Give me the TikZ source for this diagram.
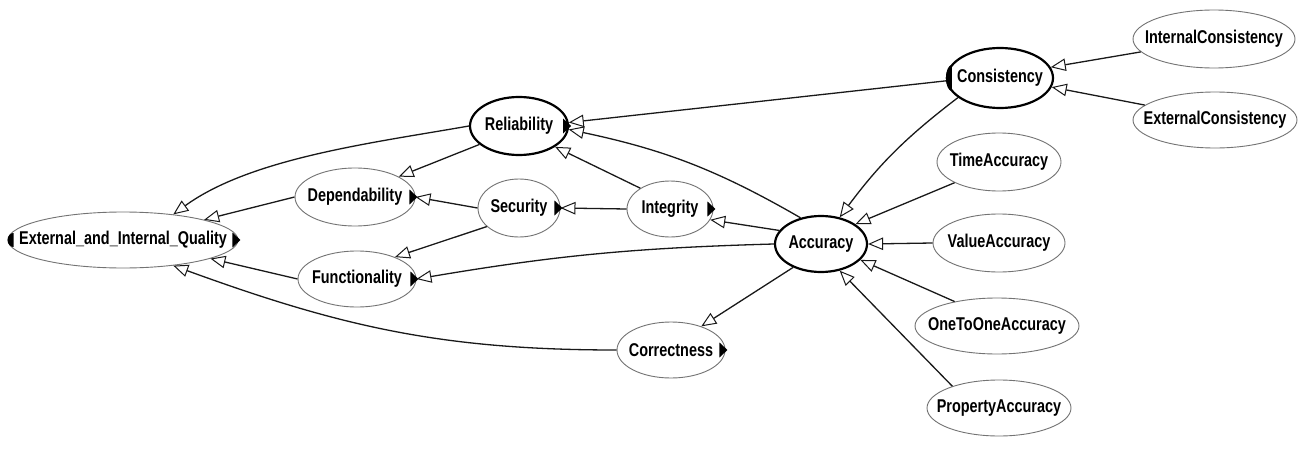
\documentclass[tikz,border=0pt]{standalone}
\usepackage{fontspec}
\newfontfamily\lblfont{Liberation Sans}[UprightFont=* Bold, FakeStretch=0.78]
\usetikzlibrary{shapes.geometric, arrows.meta}

\tikzset{
  concept/.style={ellipse, draw=black!55, line width=0.9pt, inner sep=0pt,
    font=\lblfont\fontsize{18.5}{18.5}\selectfont},
  keyconcept/.style={concept, draw=black, line width=2.2pt},
  isa/.style={draw=black!90, line width=1.3pt,
    -{Triangle[open, length=15pt, width=12.5pt, line width=1pt]}},
}

% filled flag on the right rim of a concept
\newcommand\rightflag[1]{\fill ([xshift=-6pt,yshift=7.5pt]#1.east) -- ([xshift=2pt]#1.east) -- ([xshift=-6pt,yshift=-7.5pt]#1.east) -- cycle;}
% filled half-disc on the left rim of a concept
\newcommand\leftflag[2]{\fill ([xshift=6pt,yshift=#2]#1.west) arc[start angle=90, end angle=270, x radius=6pt, y radius=#2] -- cycle;}

\begin{document}
\begin{tikzpicture}[x=1pt, y=1pt]
\fill[white] (0,0) rectangle (1307,451);
\useasboundingbox (0,0) rectangle (1307,451);

% concepts
\node[concept, minimum width=230pt, minimum height=56pt] (eiq) at (123,211) {\makebox[0pt]{External\_and\_Internal\_Quality}};
\node[concept, minimum width=120pt, minimum height=58pt] (dep) at (355,254) {\makebox[0pt]{Dependability}};
\node[concept, minimum width=118pt, minimum height=56pt] (fun) at (357,172) {\makebox[0pt]{Functionality}};
\node[keyconcept, minimum width=98pt, minimum height=58pt] (rel) at (519,325) {\makebox[0pt]{Reliability}};
\node[concept, minimum width=82pt, minimum height=58pt] (sec) at (519,243) {\makebox[0pt]{Security}};
\node[concept, minimum width=86pt, minimum height=56pt] (int) at (670,242) {\makebox[0pt]{Integrity}};
\node[keyconcept, minimum width=92pt, minimum height=56pt] (acc) at (821,207) {\makebox[0pt]{Accuracy}};
\node[concept, minimum width=108pt, minimum height=56pt] (cor) at (671,101) {\makebox[0pt]{Correctness}};
\node[keyconcept, minimum width=106pt, minimum height=60pt] (con) at (1000,373) {\makebox[0pt]{Consistency}};
\node[concept, minimum width=162pt, minimum height=58pt] (ic) at (1214,412) {\makebox[0pt]{InternalConsistency}};
\node[concept, minimum width=164pt, minimum height=56pt] (ec) at (1215,331) {\makebox[0pt]{ExternalConsistency}};
\node[concept, minimum width=124pt, minimum height=58pt] (ta) at (999,289) {\makebox[0pt]{TimeAccuracy}};
\node[concept, minimum width=132pt, minimum height=58pt] (va) at (999,208) {\makebox[0pt]{ValueAccuracy}};
\node[concept, minimum width=164pt, minimum height=56pt] (oa) at (997,125) {\makebox[0pt]{OneToOneAccuracy}};
\node[concept, minimum width=144pt, minimum height=56pt] (pa) at (999,43) {\makebox[0pt]{PropertyAccuracy}};

% rim flags
\rightflag{eiq}
\rightflag{dep}
\rightflag{fun}
\rightflag{rel}
\rightflag{sec}
\rightflag{int}
\rightflag{cor}
\leftflag{eiq}{7pt}
\leftflag{con}{13pt}

% subclass links
\draw[isa] (rel.west) to[out=190,in=36,looseness=0.8] (eiq.27);
\draw[isa] (rel.205) -- (dep.25);
\draw[isa] (dep.west) -- (eiq.14);
\draw[isa] (sec.west) -- (dep.east);
\draw[isa] (sec.210) -- (fun.30);
\draw[isa] (fun.west) -- (eiq.-12);
\draw[isa] (cor.west) to[out=180,in=-20] (eiq.-27);
\draw[isa] (con.183) -- (rel.4);
\draw[isa] (acc.128) to[out=150,in=-12] (rel.-4);
\draw[isa] (int.145) -- (rel.-30);
\draw[isa] (int.west) -- (sec.east);
\draw[isa] (acc.162) -- (int.-15);
\draw[isa] (acc.west) to[bend right=4] (fun.east);
\draw[isa] (acc.220) -- (cor.38);
\draw[isa] (con.205) to[bend right=8] (acc.55);
\draw[isa] (ta.205) -- (acc.30);
\draw[isa] (va.west) -- (acc.east);
\draw[isa] (oa.150) -- (acc.-22);
\draw[isa] (pa.155) -- (acc.-55);
\draw[isa] (ic.190) -- (con.12);
\draw[isa] (ec.168) -- (con.-10);
\end{tikzpicture}
\end{document}
